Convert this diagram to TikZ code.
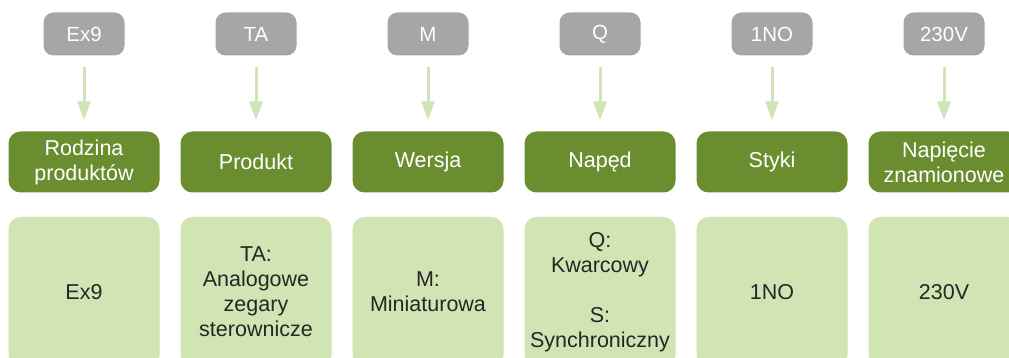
\documentclass[tikz,border=0pt]{standalone}
\usepackage{fontspec}
\setmainfont{Liberation Sans}
\usetikzlibrary{arrows.meta}

\definecolor{kodgrey}{HTML}{A6A6A8}
\definecolor{ciemnyziel}{HTML}{6A8E2F}
\definecolor{jasnyziel}{HTML}{D1E4B3}

\tikzset{
  kod/.style={fill=kodgrey, text=white, rounded corners=10pt, minimum width=81pt, minimum height=43pt, inner sep=0pt, font=\fontsize{20.5}{24}\selectfont},
  nazwa/.style={fill=ciemnyziel, text=white, rounded corners=12pt, minimum width=151pt, minimum height=61pt, inner sep=0pt, align=center, font=\fontsize{21.5}{25}\selectfont},
  opis/.style={fill=jasnyziel, text=black!85, rounded corners=12pt, minimum width=151pt, minimum height=150pt, inner sep=0pt, align=center, font=\fontsize{21.5}{25}\selectfont},
  strz/.style={-{Triangle[width=13pt,length=19pt]}, line width=3pt, draw=jasnyziel}
}

\begin{document}
\begin{tikzpicture}[x=1pt,y=-1pt]
				\clip (0,0) rectangle (1009,358);
				% kody
				\node[kod] (k1) at (84,34) {Ex9};
				\node[kod] (k2) at (256,34) {TA};
				\node[kod] (k3) at (428,34) {M};
				\node[kod] (k4) at (600,34) {Q};
				\node[kod] (k5) at (772,34) {1NO};
				\node[kod] (k6) at (944,34) {230V};

				% nazwy
				\node[nazwa] (n1) at (84,162) {Rodzina\\produktów};
				\node[nazwa] (n2) at (256,162) {Produkt};
				\node[nazwa] (n3) at (428,162) {Wersja};
				\node[nazwa] (n4) at (600,162) {Napęd};
				\node[nazwa] (n5) at (772,162) {Styki};
				\node[nazwa] (n6) at (944,162) {Napięcie\\znamionowe};

				% opisy
				\node[opis] (o1) at (84,292) {Ex9};
				\node[opis] (o2) at (256,292) {TA:\\Analogowe\\zegary\\sterownicze};
				\node[opis] (o3) at (428,292) {M:\\Miniaturowa};
				\node[opis] (o4) at (600,292) {Q:\\Kwarcowy\\[25pt]S:\\Synchroniczny};
				\node[opis] (o5) at (772,292) {1NO};
				\node[opis] (o6) at (944,292) {230V};

				\draw[strz] ([yshift=-11pt]k1.south)--([yshift=11pt]n1.north);
				\draw[strz] ([yshift=-11pt]k2.south)--([yshift=11pt]n2.north);
				\draw[strz] ([yshift=-11pt]k3.south)--([yshift=11pt]n3.north);
				\draw[strz] ([yshift=-11pt]k4.south)--([yshift=11pt]n4.north);
				\draw[strz] ([yshift=-11pt]k5.south)--([yshift=11pt]n5.north);
				\draw[strz] ([yshift=-11pt]k6.south)--([yshift=11pt]n6.north);
\end{tikzpicture}
\end{document}
